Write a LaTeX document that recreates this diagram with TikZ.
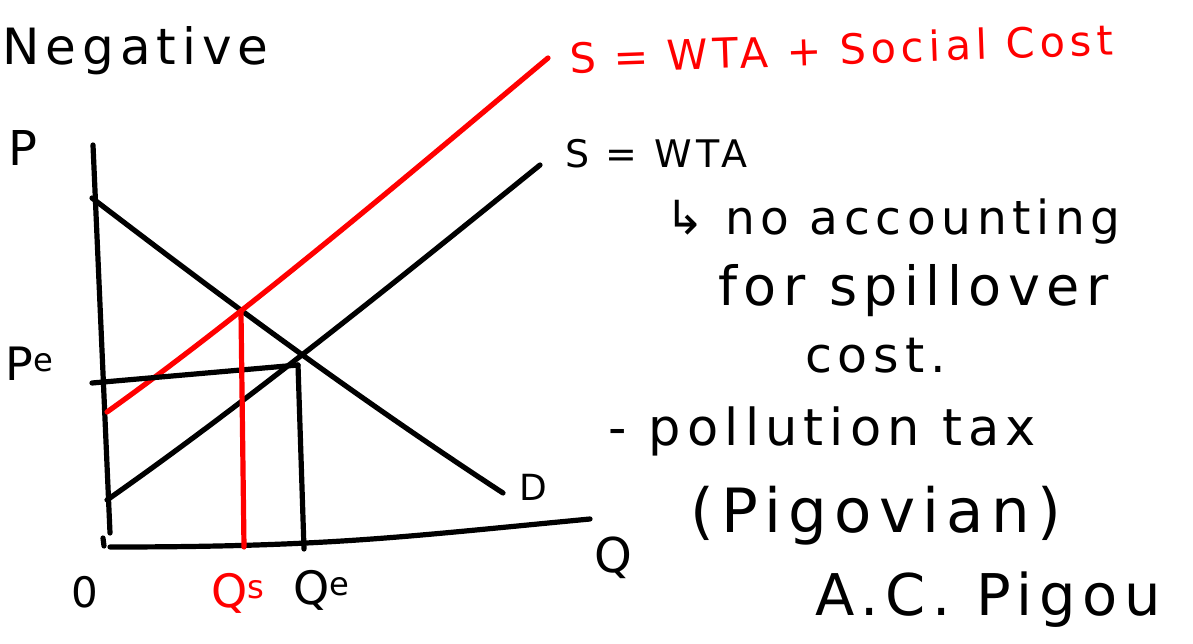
\documentclass[tikz,border=0pt]{standalone}
\usepackage{fontspec}
\setmainfont{DejaVu Sans}
\newfontfamily\handfont[LetterSpace=12]{DejaVu Sans}
\usepackage{xcolor}
\usetikzlibrary{positioning}
\definecolor{penred}{HTML}{FF0000}
\definecolor{penblack}{HTML}{000000}
\newcommand{\handsize}[1]{\fontsize{#1}{#1}\selectfont}

\begin{document}
\begin{tikzpicture}[
        x=1pt,y=-1pt,
        pen/.style={draw=penblack,line width=5.2pt,line cap=round,line join=round},
        redpen/.style={pen,draw=penred},
        hand/.style={inner sep=0pt,text=penblack},
        redhand/.style={hand,text=penred},
        every node/.style={align=left}
      ]
        \useasboundingbox[fill=white] (0,0) rectangle (1193,644);

        % axes
        \coordinate (ytop) at (93,145);
        \coordinate (ybot) at (110,533);
        \coordinate (xleft) at (110,547);
        \coordinate (xright) at (590,519);
        \coordinate (otick1) at (103,538);
        \coordinate (otick2) at (104,546);
        \draw[pen] (ytop)--(ybot);
        \draw[pen] (xleft) .. controls (330,547) and (400,537) .. (xright);
        \draw[pen] (otick1)--(otick2);

        % demand and the two supply curves
        \coordinate (dtop) at (92,198);
        \coordinate (dend) at (503,493);
        \coordinate (stop) at (540,165);
        \coordinate (sbot) at (107,500);
        \coordinate (rtop) at (548,58);
        \coordinate (rbot) at (107,412);
        \draw[pen] (dtop) .. controls (180,265) and (330,380) .. (dend);
        \draw[pen] (sbot) .. controls (250,400) and (420,262) .. (stop);
        \draw[redpen] (rbot) .. controls (250,310) and (420,165) .. (rtop);

        % equilibrium lines
        \coordinate (eq) at (298,365);
        \coordinate (pe) at (92,383);
        \coordinate (qe) at (304,549);
        \coordinate (eqs) at (241,312);
        \coordinate (qs) at (244,547);
        \draw[pen] (pe)--(eq);
        \draw[pen] (eq)--(qe);
        \draw[redpen] (eqs)--(qs);

        % axis labels
        \node[hand,font=\handfont\handsize{48}] (plab) at (23,148) {P};
        \node[hand,font=\handfont\handsize{46}] (pelab) at (30,364) {P\textsuperscript{e}};
        \node[hand,font=\handfont\handsize{42}] (olab) at (85,592) {0};
        \node[redhand,font=\handfont\handsize{46}] (qslab) at (238,593) {Q\textsuperscript{s}};
        \node[hand,font=\handfont\handsize{46}] (qelab) at (322,590) {Q\textsuperscript{e}};
        \node[hand,font=\handfont\handsize{48}] (qlab) at (613,558) {Q};
        \node[hand,font=\handfont\handsize{36}] (dlab) at (533,487) {D};

        % curve labels and notes
        \node[hand,anchor=base west,font=\handfont\handsize{50}] (title) at (2,65) {Negative};
        \node[redhand,anchor=base west,rotate=2,font=\handfont\handsize{41.5}] (redlab) at (570,74) {S = WTA + Social Cost};
        \node[hand,anchor=base west,font=\handfont\handsize{38}] (slab) at (565,168) {S = WTA};
        \node[hand,anchor=base west,font=\handfont\handsize{47}] (note1) at (665,235) {↳ no accounting};
        \node[hand,anchor=base west,font=\handfont\handsize{54}] (note2) at (718,305) {for spillover};
        \node[hand,anchor=base west,font=\handfont\handsize{49}] (note3) at (805,372) {cost.};
        \node[hand,anchor=base west,font=\handfont\handsize{51}] (note4) at (608,445) {- pollution tax};
        \node[hand,anchor=base west,font=\handfont\handsize{61}] (note5) at (690,532) {(Pigovian)};
        \node[hand,anchor=base west,font=\handfont\handsize{57.5}] (note6) at (815,615) {A.C. Pigou};
      \end{tikzpicture}
\end{document}
